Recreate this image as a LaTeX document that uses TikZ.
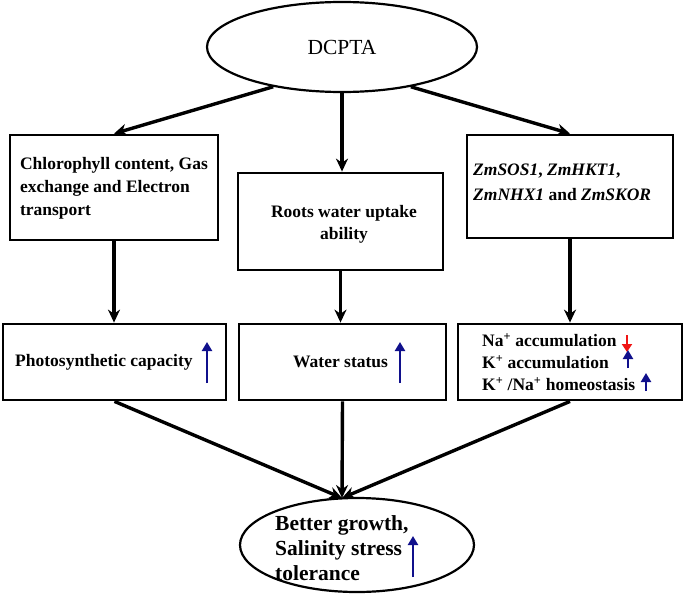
\documentclass[tikz,border=0pt]{standalone}
\usepackage{fontspec}
\setmainfont{Liberation Serif}
\usetikzlibrary{shapes.geometric,arrows.meta}
\definecolor{upblue}{RGB}{16,16,140}
\definecolor{downred}{RGB}{240,20,20}
\begin{document}
\begin{tikzpicture}[x=1pt,y=-1pt,
  frame/.style={draw,line width=2.8pt,inner sep=0pt},
  ell/.style={draw,ellipse,line width=2.2pt,inner sep=0pt},
  txt/.style={inner sep=0pt,font=\fontsize{17.5}{23}\selectfont\bfseries},
  conn/.style={line width=3.4pt,-{Stealth[length=13pt,width=12pt]}},
  uparr/.style={line width=2.6pt,draw=upblue,-{Triangle[length=9pt,width=10pt]}},
  downarr/.style={line width=2.6pt,draw=downred,-{Triangle[length=8pt,width=10pt]}}
]
\useasboundingbox (0,0) rectangle (685,594);

% ellipses
\node[ell,minimum width=270pt,minimum height=90pt,font=\fontsize{21.5}{25}\selectfont] (dc) at (342,47) {DCPTA};
\node[ell,minimum width=234pt,minimum height=94pt] (be) at (357,545) {};

% frames
\node[frame,minimum width=208pt,minimum height=105pt] (b1) at (114,187.5) {};
\node[frame,minimum width=205pt,minimum height=97pt] (b2) at (340.5,221.5) {};
\node[frame,minimum width=206pt,minimum height=103pt] (b3) at (570,186.5) {};
\node[frame,minimum width=223pt,minimum height=76pt] (b4) at (114.5,362) {};
\node[frame,minimum width=207pt,minimum height=76pt] (b5) at (342.5,362) {};
\node[frame,minimum width=224pt,minimum height=76pt] (b6) at (570,362) {};

% texts
\node[txt,align=left] (t1) at (114,188) {Chlorophyll content, Gas\\exchange and Electron\\transport};
\node[txt,align=center,font=\fontsize{17.5}{22}\selectfont\bfseries] (t2) at (344,224) {Roots water uptake\\ability};
\node[txt,align=left,anchor=west,font=\fontsize{17.5}{25}\selectfont\bfseries] (t3) at (473,182) {\textit{ZmSOS1}, \textit{ZmHKT1},\\\textit{ZmNHX1} and \textit{ZmSKOR}};
\node[txt,anchor=west] (t4) at (15,362) {Photosynthetic capacity};
\node[txt,anchor=west] (t5) at (293,362) {Water status};
\node[txt,align=left,anchor=west,font=\fontsize{17.5}{22}\selectfont\bfseries] (t6) at (482,362) {Na\textsuperscript{+} accumulation\\K\textsuperscript{+} accumulation\\K\textsuperscript{+} /Na\textsuperscript{+} homeostasis};
\node[txt,align=left,anchor=west,font=\fontsize{21.5}{25}\selectfont\bfseries] (t7) at (275,548) {Better growth,\\Salinity stress\\tolerance};

% indicator arrows
\draw[uparr] (207,383) -- (207,342);
\draw[uparr] (400,383) -- (400,342);
\draw[downarr] (627,335) -- (627,352);
\draw[uparr] (628,368) -- (628,350);
\draw[uparr] (646,391) -- (646,373);
\draw[uparr] (413,577) -- (413,536);

% connectors
\coordinate (tip) at (342,498);
\draw[conn] (dc.210) -- (b1.north);
\draw[conn] (dc.south) -- (dc.south |- b2.north);
\draw[conn] (dc.330) -- (b3.north);
\draw[conn] (b1.south) -- (b1.south |- b4.north);
\draw[conn] (b2.south) -- (b2.south |- b5.north);
\draw[conn] (b3.south) -- (b3.south |- b6.north);
\draw[conn] (b4.south) -- (tip);
\draw[conn] (b5.south) -- (tip);
\draw[conn] (b6.south) -- (tip);
\end{tikzpicture}
\end{document}
